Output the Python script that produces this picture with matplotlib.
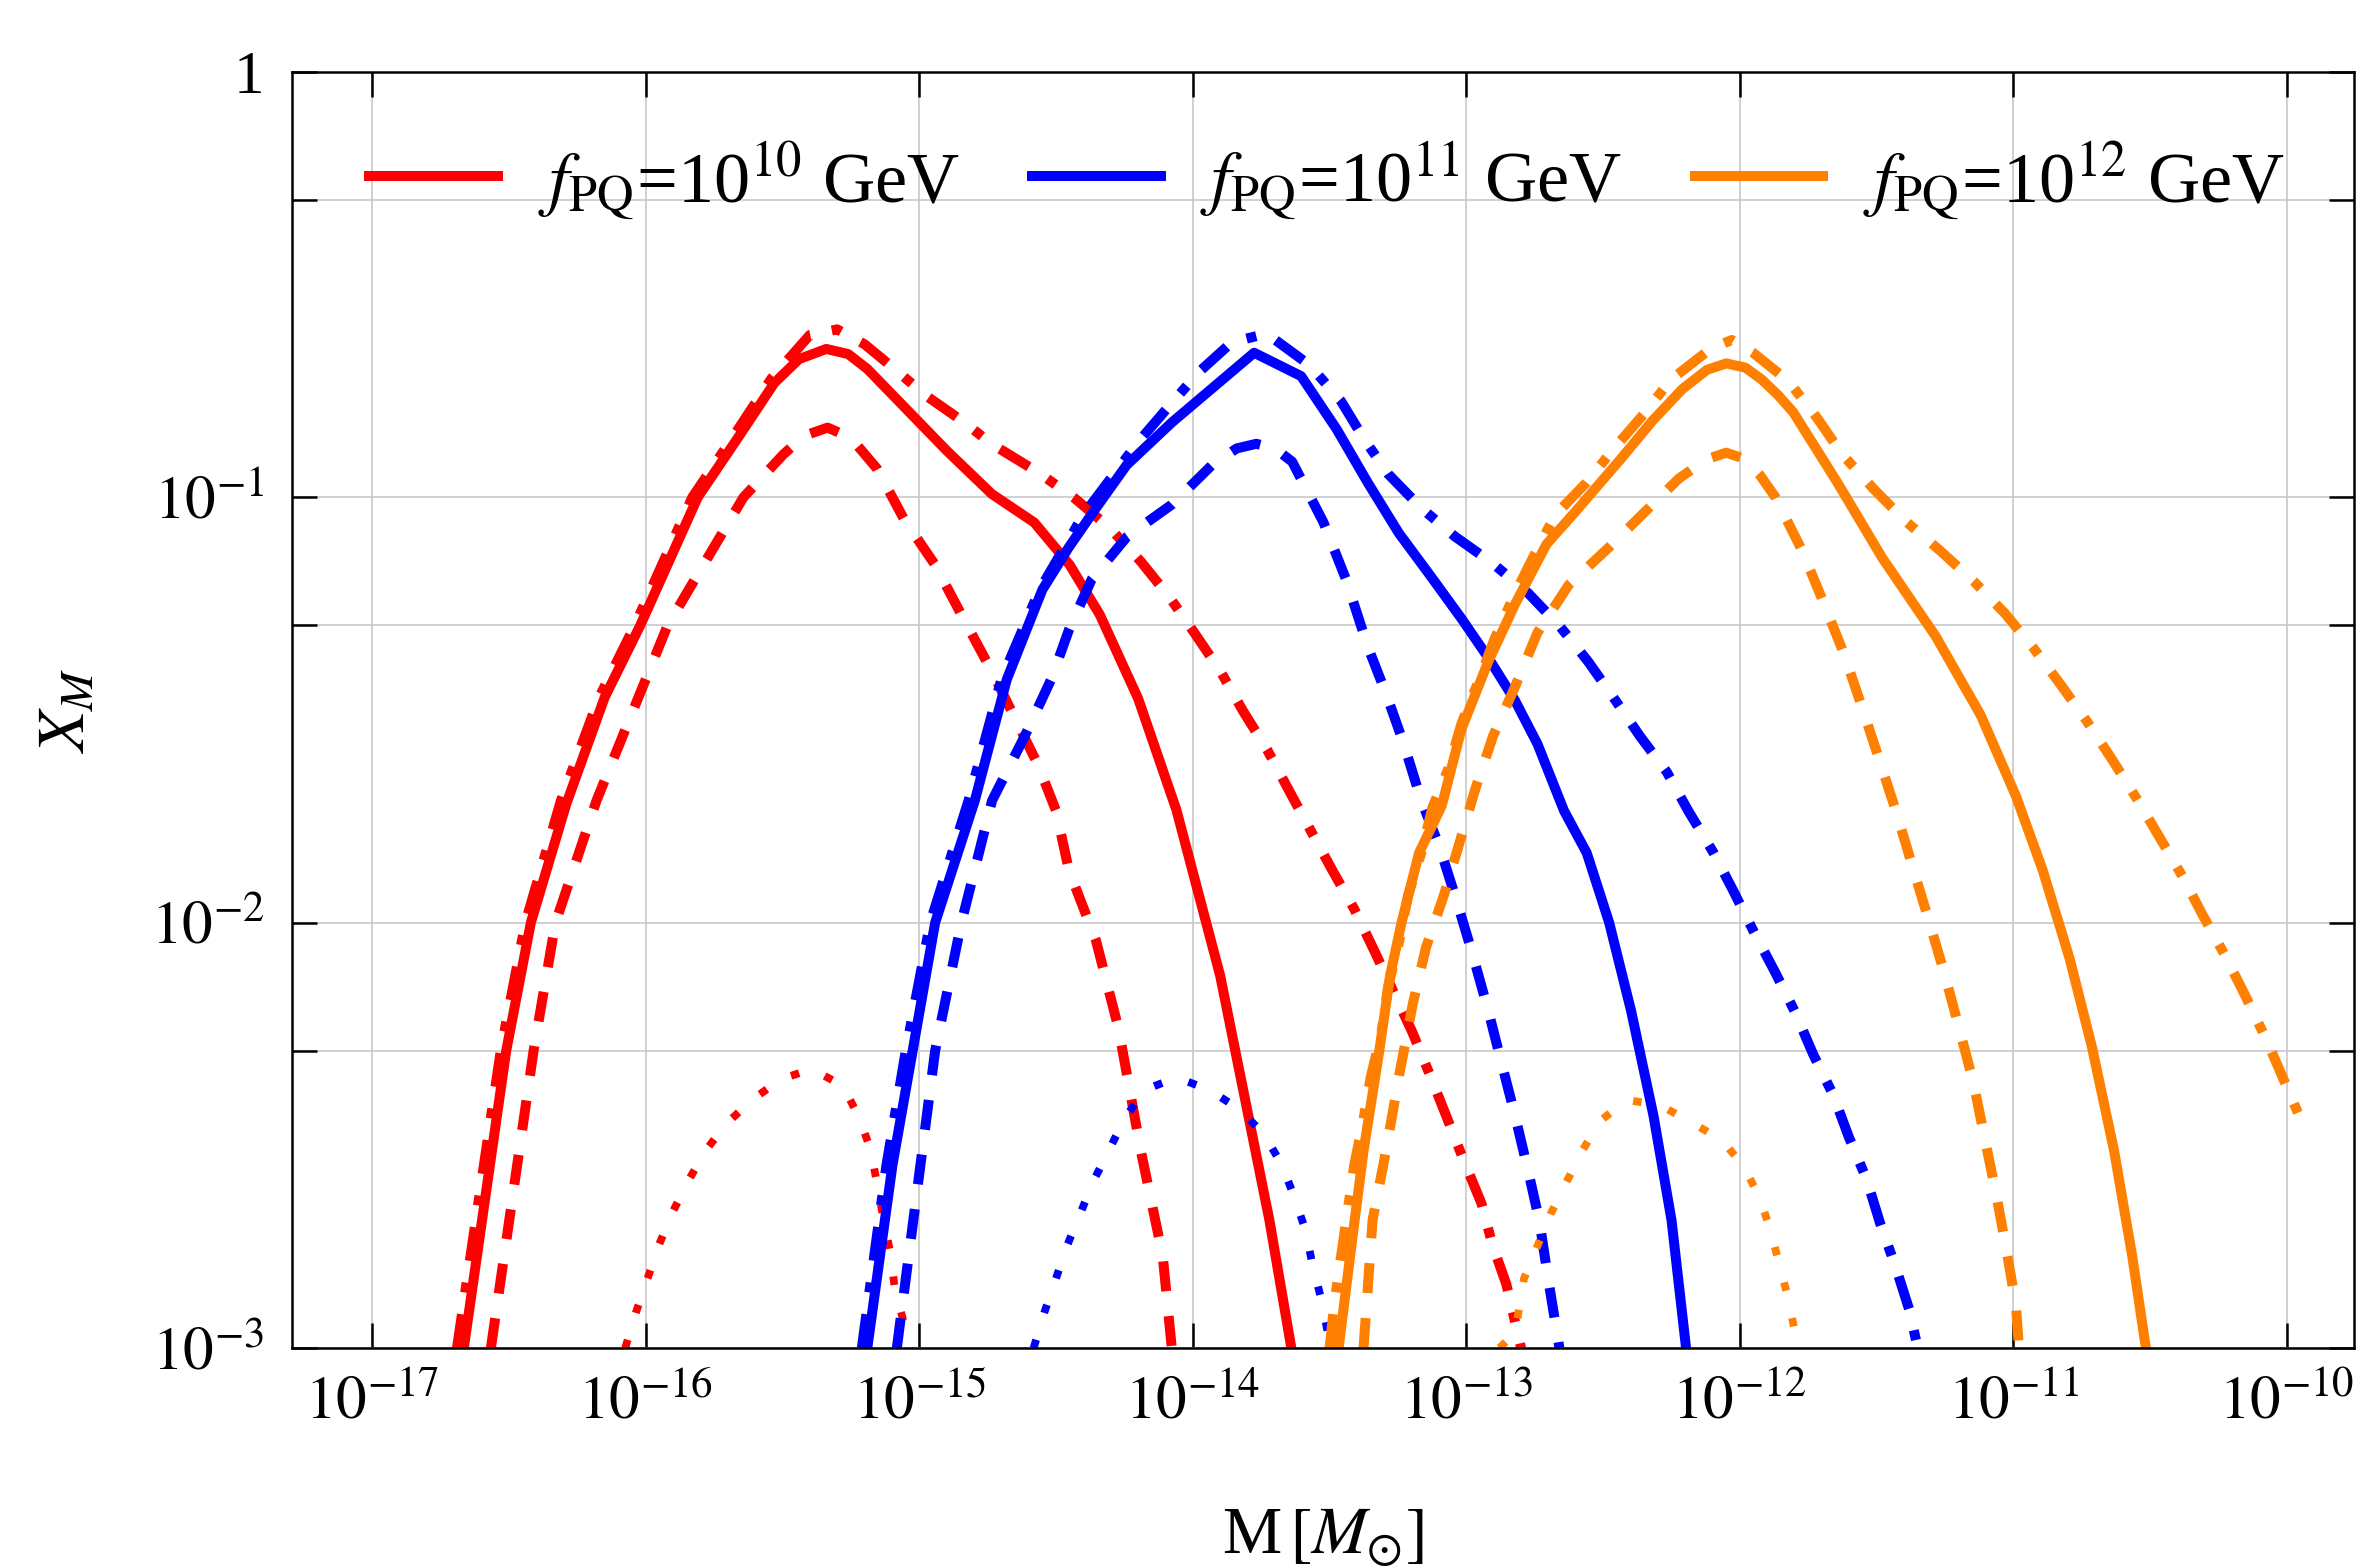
import numpy as np
import matplotlib
matplotlib.use("Agg")
import matplotlib.pyplot as plt
from matplotlib.ticker import FixedLocator, FixedFormatter, NullFormatter

plt.rcParams["font.family"] = ["Liberation Serif", "DejaVu Serif"]
plt.rcParams["mathtext.fontset"] = "stix"

# values, stored as log10(M / Msun) and log10(X_M)
# f_PQ = 1e10 GeV (red)
red_solid_lm = [-16.665, -16.51, -16.42, -16.29, -16.15, -16.02, -15.81, -15.66, -15.53, -15.44, -15.34,
                -15.26, -15.19, -14.90, -14.735, -14.58, -14.45, -14.34, -14.20, -14.06, -13.90, -13.72, -13.64]
red_solid_lx = [-3.0, -2.301, -2.0, -1.72, -1.47, -1.301, -1.0, -0.857, -0.731, -0.675, -0.651,
                -0.663, -0.698, -0.890, -0.992, -1.059, -1.159, -1.276, -1.473, -1.735, -2.125, -2.70, -3.0]
red_dash_lm = [-16.566, -16.41, -16.33, -16.18, -15.92, -15.643, -15.497, -15.42, -15.335, -15.25, -15.154,
               -15.057, -14.942, -14.846, -14.734, -14.566, -14.50, -14.453, -14.354, -14.272, -14.19,
               -14.11, -14.077]
red_dash_lx = [-3.0, -2.301, -2.0, -1.713, -1.301, -1.0, -0.899, -0.855, -0.836, -0.86, -0.933,
               -1.05, -1.159, -1.276, -1.41, -1.629, -1.737, -1.877, -2.042, -2.248, -2.537,
               -2.784, -3.0]
red_dd_lm = [-16.69, -16.53, -16.44, -16.31, -16.17, -16.04, -15.83, -15.68, -15.54, -15.40, -15.30,
             -15.20, -15.098, -14.975, -14.837, -14.734, -14.566, -14.436, -14.305, -14.19, -14.085,
             -13.995, -13.898, -13.816, -13.727, -13.637, -13.573, -13.49, -13.41, -13.336, -13.198,
             -13.132, -13.074, -13.011, -12.945, -12.904, -12.854, -12.80]
red_dd_lx = [-3.0, -2.301, -2.0, -1.713, -1.47, -1.301, -1.0, -0.857, -0.72, -0.618, -0.605,
             -0.64, -0.694, -0.761, -0.823, -0.875, -0.941, -1.0, -1.071, -1.151, -1.235,
             -1.318, -1.41, -1.503, -1.595, -1.703, -1.779, -1.877, -1.968, -2.067, -2.257,
             -2.36, -2.454, -2.557, -2.66, -2.759, -2.85, -3.0]
red_dot_lm = [-16.075, -16.035, -15.994, -15.953, -15.905, -15.848, -15.782, -15.709, -15.612, -15.506,
              -15.392, -15.277, -15.22, -15.178, -15.154, -15.13, -15.106, -15.09, -15.057, -15.045]
red_dot_lx = [-3.0, -2.915, -2.838, -2.76, -2.685, -2.611, -2.537, -2.475, -2.417, -2.368,
              -2.344, -2.385, -2.459, -2.533, -2.615, -2.70, -2.776, -2.858, -2.94, -3.0]

# f_PQ = 1e11 GeV (blue)
blue_solid_lm = [-15.19, -15.098, -15.025, -14.942, -14.797, -14.68, -14.55, -14.453, -14.354, -14.242,
                 -14.077, -13.776, -13.604, -13.474, -13.36, -13.247, -13.132, -13.018, -12.92, -12.822,
                 -12.74, -12.643, -12.56, -12.478, -12.398, -12.316, -12.25, -12.197]
blue_solid_lx = [-3.0, -2.57, -2.304, -2.0, -1.713, -1.428, -1.217, -1.117, -1.025, -0.924,
                 -0.824, -0.66, -0.715, -0.84, -0.966, -1.084, -1.184, -1.285, -1.377, -1.478,
                 -1.58, -1.737, -1.836, -2.0, -2.207, -2.454, -2.70, -3.0]
blue_dash_lm = [-15.082, -14.942, -14.846, -14.734, -14.615, -14.518, -14.452, -14.37, -14.24, -14.077,
                -13.93, -13.84, -13.768, -13.70, -13.637, -13.523, -13.44, -13.36, -13.294, -13.229,
                -13.165, -13.099, -13.034, -12.977, -12.92, -12.871, -12.822, -12.773, -12.733, -12.70,
                -12.66]
blue_dash_lx = [-3.0, -2.301, -2.0, -1.713, -1.562, -1.428, -1.31, -1.193, -1.092, -1.017,
                -0.924, -0.885, -0.874, -0.885, -0.916, -1.058, -1.193, -1.352, -1.461, -1.579,
                -1.713, -1.82, -1.952, -2.075, -2.207, -2.331, -2.454, -2.587, -2.702, -2.842,
                -3.0]
blue_dd_lm = [-15.21, -15.12, -15.05, -14.96, -14.82, -14.70, -14.56, -14.40, -14.20, -14.093, -13.979,
              -13.857, -13.73, -13.573, -13.458, -13.376, -13.286, -13.165, -13.042, -12.904, -12.773,
              -12.66, -12.555, -12.463, -12.365, -12.267, -12.189, -12.099, -12.026, -11.952, -11.871,
              -11.798, -11.732, -11.659, -11.602, -11.537, -11.488, -11.431, -11.382, -11.35]
blue_dd_lx = [-3.0, -2.57, -2.304, -2.0, -1.713, -1.428, -1.217, -1.041, -0.87, -0.79, -0.706,
              -0.635, -0.615, -0.689, -0.774, -0.861, -0.945, -1.025, -1.092, -1.155, -1.226,
              -1.302, -1.386, -1.47, -1.562, -1.646, -1.737, -1.833, -1.923, -2.018, -2.117,
              -2.211, -2.31, -2.405, -2.504, -2.603, -2.706, -2.809, -2.908, -3.0]
blue_dot_lm = [-14.582, -14.542, -14.501, -14.46, -14.412, -14.363, -14.305, -14.248, -14.175, -14.06,
               -13.94, -13.832, -13.743, -13.678, -13.63, -13.589, -13.564, -13.532, -13.508, -13.50]
blue_dot_lx = [-3.0, -2.915, -2.838, -2.76, -2.685, -2.607, -2.533, -2.459, -2.393, -2.364,
               -2.393, -2.438, -2.495, -2.565, -2.643, -2.722, -2.8, -2.882, -2.96, -3.0]

# f_PQ = 1e12 GeV (orange)
orange_solid_lm = [-13.467, -13.417, -13.376, -13.319, -13.279, -13.237, -13.173, -13.09, -13.018, -12.92,
                   -12.822, -12.707, -12.602, -12.432, -12.32, -12.21, -12.12, -12.05, -11.98, -11.92,
                   -11.86, -11.805, -11.643, -11.48, -11.284, -11.12, -10.99, -10.893, -10.795, -10.714,
                   -10.632, -10.566, -10.516]
orange_solid_lx = [-3.0, -2.743, -2.537, -2.304, -2.125, -2.0, -1.836, -1.725, -1.545, -1.386,
                   -1.251, -1.11, -1.034, -0.907, -0.82, -0.745, -0.70, -0.685, -0.695, -0.723,
                   -0.76, -0.8, -0.966, -1.142, -1.327, -1.512, -1.704, -1.877, -2.084, -2.29,
                   -2.537, -2.784, -3.0]
orange_dash_lm = [-13.376, -13.343, -13.294, -13.245, -13.196, -13.148, -13.082, -13.025, -12.968, -12.903,
                  -12.822, -12.74, -12.626, -12.478, -12.333, -12.222, -12.12, -12.05, -11.98, -11.93,
                  -11.871, -11.772, -11.692, -11.619, -11.553, -11.489, -11.43, -11.365, -11.307, -11.25,
                  -11.195, -11.145, -11.104, -11.064, -11.024, -10.991, -10.98]
orange_dash_lx = [-3.0, -2.70, -2.537, -2.356, -2.191, -2.059, -1.935, -1.812, -1.687, -1.562,
                  -1.445, -1.318, -1.206, -1.117, -1.025, -0.955, -0.91, -0.895, -0.91, -0.945,
                  -0.999, -1.126, -1.251, -1.369, -1.495, -1.62, -1.737, -1.877, -2.0, -2.125,
                  -2.257, -2.38, -2.511, -2.636, -2.776, -2.9, -3.0]
orange_dd_lm = [-13.50, -13.482, -13.458, -13.434, -13.41, -13.376, -13.35, -13.31, -13.286, -13.245,
                -13.213, -13.165, -13.124, -13.066, -13.018, -12.953, -12.896, -12.822, -12.757, -12.675,
                -12.562, -12.463, -12.35, -12.252, -12.108, -12.03, -11.952, -11.822, -11.716, -11.626,
                -11.513, -11.398, -11.267, -11.146, -11.031, -10.925, -10.828, -10.73, -10.64, -10.55,
                -10.47, -10.38, -10.306, -10.225, -10.151, -10.077, -10.013, -9.947]
orange_dd_lx = [-3.0, -2.891, -2.784, -2.677, -2.57, -2.462, -2.364, -2.257, -2.15, -2.042,
                -1.935, -1.836, -1.729, -1.638, -1.532, -1.428, -1.331, -1.226, -1.142, -1.041,
                -0.966, -0.887, -0.803, -0.723, -0.651, -0.63, -0.66, -0.727, -0.815, -0.899,
                -0.979, -1.054, -1.126, -1.197, -1.273, -1.356, -1.44, -1.528, -1.616, -1.708,
                -1.795, -1.894, -1.985, -2.079, -2.174, -2.273, -2.368, -2.467]
orange_dot_lm = [-12.879, -12.822, -12.79, -12.74, -12.692, -12.635, -12.577, -12.512, -12.415, -12.292,
                 -12.174, -12.066, -11.985, -11.927, -11.887, -11.854, -11.822, -11.798, -11.79]
orange_dot_lx = [-3.0, -2.965, -2.838, -2.76, -2.685, -2.611, -2.537, -2.467, -2.417, -2.429,
                 -2.471, -2.511, -2.574, -2.648, -2.726, -2.809, -2.887, -2.966, -3.0]

legend_labels = [r"$f_{\rm PQ}$=10$^{10}$ GeV", r"$f_{\rm PQ}$=10$^{11}$ GeV", r"$f_{\rm PQ}$=10$^{12}$ GeV"]
colors = ["#ff0000", "#0000ff", "#ff8000"]

x_ticks = [1e-17, 1e-16, 1e-15, 1e-14, 1e-13, 1e-12, 1e-11, 1e-10]
x_ticklabels = [r"$10^{-17}$", r"$10^{-16}$", r"$10^{-15}$", r"$10^{-14}$",
                r"$10^{-13}$", r"$10^{-12}$", r"$10^{-11}$", r"$10^{-10}$"]
y_ticks = [1e-3, 1e-2, 1e-1, 1]
y_ticklabels = [r"$10^{-3}$", r"$10^{-2}$", r"$10^{-1}$", "1"]
y_minor = [5e-3, 5e-2, 5e-1]

series = [
    (red_solid_lm, red_solid_lx, red_dash_lm, red_dash_lx, red_dd_lm, red_dd_lx, red_dot_lm, red_dot_lx),
    (blue_solid_lm, blue_solid_lx, blue_dash_lm, blue_dash_lx, blue_dd_lm, blue_dd_lx, blue_dot_lm, blue_dot_lx),
    (orange_solid_lm, orange_solid_lx, orange_dash_lm, orange_dash_lx, orange_dd_lm, orange_dd_lx,
     orange_dot_lm, orange_dot_lx),
]

fig = plt.figure(figsize=(11.795, 7.835), dpi=200)
ax = fig.add_axes([0.1238, 0.1398, 0.8741, 0.8142])

lw = 3.6
for c, lab, (sm, sx, dm, dx, ddm, ddx, om, ox) in zip(colors, legend_labels, series):
    ax.plot(10 ** np.array(sm), 10 ** np.array(sx), color=c, lw=lw, label=lab,
            solid_joinstyle="round")
    ax.plot(10 ** np.array(dm), 10 ** np.array(dx), color=c, lw=lw, dashes=(3.0, 2.5),
            dash_capstyle="butt")
    ax.plot(10 ** np.array(ddm), 10 ** np.array(ddx), color=c, lw=lw, dashes=(3.4, 2.2, 1.0, 2.2),
            dash_capstyle="butt")
    ax.plot(10 ** np.array(om), 10 ** np.array(ox), color=c, lw=2.8, dashes=(1.1, 3.6),
            dash_capstyle="butt")

ax.set_xscale("log")
ax.set_yscale("log")
ax.set_xlim(10 ** -17.293, 10 ** -9.755)
ax.set_ylim(1e-3, 1)

ax.xaxis.set_major_locator(FixedLocator(x_ticks))
ax.xaxis.set_major_formatter(FixedFormatter(x_ticklabels))
ax.xaxis.set_minor_locator(FixedLocator([]))
ax.yaxis.set_major_locator(FixedLocator(y_ticks))
ax.yaxis.set_major_formatter(FixedFormatter(y_ticklabels))
ax.yaxis.set_minor_locator(FixedLocator(y_minor))
ax.yaxis.set_minor_formatter(NullFormatter())

ax.tick_params(which="both", direction="in", top=True, right=True, length=9, width=0.9,
               labelsize=22, pad=10)
ax.grid(True, which="major", color="#c8c8c8", lw=0.6)
ax.grid(True, which="minor", axis="y", color="#c8c8c8", lw=0.6)
for s in ax.spines.values():
    s.set_linewidth(0.9)

ax.set_xlabel(r"M$\,[M_{\odot}]$", fontsize=24)
ax.xaxis.set_label_coords(0.5, -0.124)
ax.set_ylabel(r"$X_M$", fontsize=24)
ax.yaxis.set_label_coords(-0.094, 0.5)

ax.legend(loc="center", bbox_to_anchor=(0.502, 0.9146), ncol=3, frameon=False, fontsize=26,
          handlelength=1.78, handletextpad=0.55, columnspacing=1.0)

fig.savefig("out.png", dpi=200)
